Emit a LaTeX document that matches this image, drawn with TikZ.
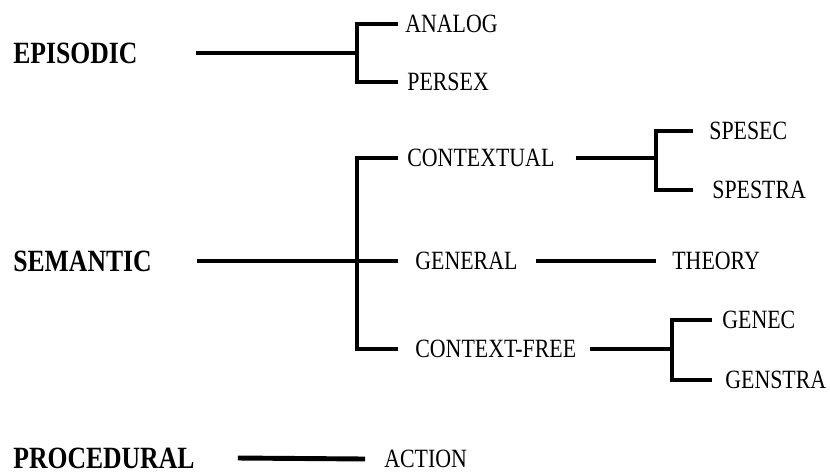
\documentclass[tikz,border=0pt]{standalone}
\usepackage{fontspec}
\setmainfont{Liberation Serif}
\newfontfamily\memfont{Liberation Serif}[FakeStretch=0.83]
\begin{document}
\begin{tikzpicture}[x=0.02cm,y=-0.02cm,
  tie/.style={line width=2.8pt},
  kind/.style={anchor=west,inner sep=0pt,font=\memfont\fontsize{17.6}{20}\selectfont\bfseries},
  sub/.style={anchor=west,inner sep=0pt,font=\memfont\fontsize{15}{18}\selectfont}]
  \useasboundingbox (0,0) rectangle (830,474);
  % kinds of memory
  \node[kind] (epi) at (13,53) {EPISODIC};
  \node[kind] (sem) at (13,261) {SEMANTIC};
  \node[kind] (proc) at (13,458) {PROCEDURAL};
  % second level
  \node[sub] (analog) at (405,24) {ANALOG};
  \node[sub] (persex) at (407,82) {PERSEX};
  \node[sub] (ctx) at (407,158) {CONTEXTUAL};
  \node[sub] (gen) at (415,261) {GENERAL};
  \node[sub] (cfree) at (415,349) {CONTEXT-FREE};
  \node[sub] (action) at (384,459) {ACTION};
  % third level
  \node[sub] (spesec) at (709,131) {SPESEC};
  \node[sub] (spestra) at (712,190) {SPESTRA};
  \node[sub] (theory) at (672,261) {THEORY};
  \node[sub] (genec) at (722,320) {GENEC};
  \node[sub] (genstra) at (725,380) {GENSTRA};
  % forks
  \coordinate (f1) at (357,0);
  \coordinate (e1) at (398,0);
  \coordinate (f2) at (656,0);
  \coordinate (e2) at (693,0);
  \coordinate (f3) at (672,0);
  \coordinate (e3) at (712,0);
  \draw[tie] (epi.east) ++(58,0) -- (f1 |- epi);
  \draw[tie] (e1 |- analog) -| (f1 |- persex) -- (e1 |- persex);
  \draw[tie] (sem.east) ++(45,0) -- (e1 |- gen);
  \draw[tie] (e1 |- ctx) -| (f1 |- cfree) -- (e1 |- cfree);
  \draw[tie] (ctx.east) ++(21,0) -- (f2 |- ctx);
  \draw[tie] (e2 |- spesec) -| (f2 |- spestra) -- (e2 |- spestra);
  \draw[tie] (gen.east) ++(18,0) -- (f2 |- theory);
  \draw[tie] (cfree.east) ++(13,0) -- (f3 |- cfree);
  \draw[tie] (e3 |- genec) -| (f3 |- genstra) -- (e3 |- genstra);
  \draw[tie] (proc.east) ++(43,0) -- ([xshift=-0.38cm]action.west);
\end{tikzpicture}
\end{document}
